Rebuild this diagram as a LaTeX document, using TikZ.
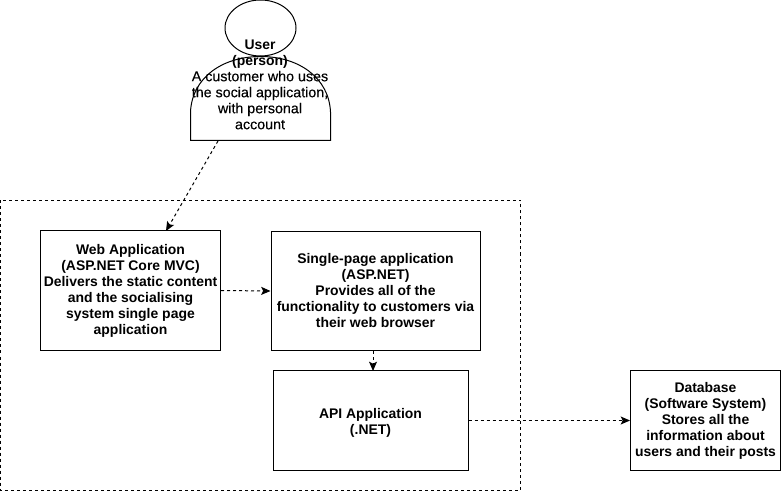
\documentclass[tikz,border=0pt]{standalone}
\usepackage{fontspec}
\setmainfont{Liberation Sans}
\newfontfamily\semifont[FakeBold=0.25]{Liberation Sans}
\usetikzlibrary{arrows.meta}
\tikzset{
 box/.style={draw,line width=.75pt,fill=white,align=center,font=\fontsize{10.45pt}{12pt}\selectfont\bfseries,inner sep=0pt},
 conn/.style={draw,line width=.75pt,dash pattern=on 2.25pt off 2.25pt,-{Stealth[length=7pt,width=6pt,inset=1.5pt]}},
 txt/.style={align=center,font=\fontsize{10.45pt}{12pt}\selectfont,inner sep=0pt}
}
\begin{document}
\begin{tikzpicture}[x=.75pt,y=-.75pt]
\useasboundingbox (0,0) rectangle (781,491);
\fill[white] (0,0) rectangle (781,491);
\draw[line width=.75pt,dash pattern=on 2.25pt off 2.25pt] (0.5,200.5) rectangle (520.5,490);
\draw[line width=.75pt,fill=white] (260.5,28) ellipse (35.5 and 28);
\draw[line width=.75pt,fill=white] (190.5,140.5) -- (190.5,112) .. controls (192,78) and (222,56.5) .. (260.5,56.5) .. controls (299,56.5) and (329,78) .. (330.5,112) -- (330.5,140.5) -- cycle;
\coordinate (uedge) at (218,141);
\node[txt] (user) at (260,84.5) {\textbf{User}\\\textbf{(person)}\\\semifont\fontsize{10.7pt}{12pt}\selectfont A customer who uses\\\semifont\fontsize{10.7pt}{12pt}\selectfont the social application,\\\semifont\fontsize{10.7pt}{12pt}\selectfont with personal\\\semifont\fontsize{10.7pt}{12pt}\selectfont account};
\node[box,minimum width=135pt,minimum height=90pt] (web) at (130.5,290.5) {Web Application\\(ASP.NET Core MVC)\\Delivers the static content\\and the socialising\\system single page\\application};
\node[box,minimum width=156.75pt,minimum height=89.25pt] (spa) at (375.5,291) {Single-page application\\(ASP.NET)\\Provides all of the\\functionality to customers via\\their web browser};
\node[box,minimum width=146.25pt,minimum height=74.5pt] (api) at (370.5,420.5) {\rule{0pt}{11pt}API Application\\(.NET)};
\node[box,minimum width=112.5pt,minimum height=74.5pt] (db) at (705.5,420.5) {Database\\(Software System)\\Stores all the\\information about\\users and their posts};
\draw[conn] (uedge) -- (166,231);
\draw[conn] (web.east) -- (spa.west);
\draw[conn] (373,351) -- (373,371);
\draw[conn] (api.east) -- (db.west);
\end{tikzpicture}
\end{document}
